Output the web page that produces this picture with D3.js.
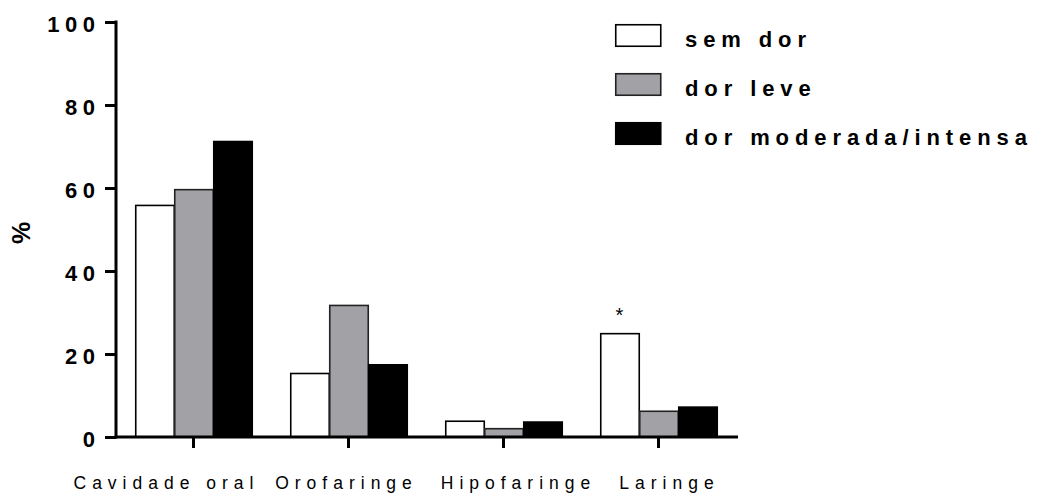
<!DOCTYPE html>
<html>
<head>
<meta charset="utf-8">
<script src="https://cdn.jsdelivr.net/npm/d3@7"></script>
<style>
  html, body { margin: 0; padding: 0; background: #fff; }
  svg { display: block; }
  text { font-family: "Liberation Sans", Arial, sans-serif; }
</style>
</head>
<body>
<svg id="chart" width="1039" height="496"></svg>
<script>
// Tumour site by pain category (%)
const categories = ["Cavidade oral", "Orofaringe", "Hipofaringe", "Laringe"];
const seriesNames = ["sem dor", "dor leve", "dor moderada/intensa"];
const semDor = [55.8, 15.3, 3.8, 24.9];
const dorLeve = [59.6, 31.7, 2.0, 6.2];
const dorModerada = [71.2, 17.4, 3.6, 7.2];
const yTicks = [0, 20, 40, 60, 80, 100];
const significant = ["Laringe"];           // marked with * over "sem dor"
const labelShift = [-30, -5, 12, 8];        // horizontal nudges for category labels

const seriesValues = [semDor, dorLeve, dorModerada];
const fills = ["#ffffff", "#a2a2a6", "#000000"];
const strokes = ["#000000", "#222222", "#000000"];

const svg = d3.select("#chart");
const plotLeft = 116, plotRight = 736, plotTop = 22, plotBottom = 437;

const x = d3.scaleBand().domain(categories).range([plotLeft, plotRight]).padding(0);
const xs = d3.scaleBand().domain(seriesNames).range([19, 136]).padding(0);
const y = d3.scaleLinear().domain([0, 100]).range([plotBottom, plotTop]);

// Bars
const groups = svg.selectAll("g.grp").data(categories).join("g")
  .attr("class", "grp")
  .attr("transform", d => `translate(${x(d)},0)`);

groups.selectAll("rect").data((c, i) => seriesNames.map((s, j) => ({ s, j, v: seriesValues[j][i] })))
  .join("rect")
  .attr("x", d => xs(d.s) + 0.75)
  .attr("width", xs.bandwidth() - 0.5)
  .attr("y", d => y(d.v))
  .attr("height", d => y(0) - y(d.v))
  .attr("fill", d => fills[d.j])
  .attr("stroke", d => strokes[d.j])
  .attr("stroke-width", 1.6);

// Significance marker
svg.selectAll("text.sig").data(significant).join("text")
  .attr("class", "sig")
  .attr("x", d => x(d) + xs("sem dor") + xs.bandwidth() / 2)
  .attr("y", d => y(semDor[categories.indexOf(d)]) - 12)
  .attr("text-anchor", "middle")
  .attr("font-size", 20)
  .text("*");

// Y axis
const yAxis = d3.axisLeft(y).tickValues(yTicks).tickSize(11).tickPadding(10).tickFormat(d3.format("d"));
const gy = svg.append("g").attr("transform", `translate(${plotLeft},0)`).call(yAxis);
gy.select(".domain").attr("stroke", "#000").attr("stroke-width", 3)
  .attr("d", `M0,${plotTop - 1.5}V${plotBottom + 1.5}`);
gy.selectAll(".tick line").attr("stroke", "#000").attr("stroke-width", 3);
gy.selectAll(".tick text")
  .attr("font-size", 22).attr("font-weight", "bold").attr("fill", "#000")
  .attr("letter-spacing", 5.5).attr("dx", 5.5).attr("dy", "0.45em");

// X axis
const xAxis = d3.axisBottom(x).tickSize(11).tickFormat("");
const gx = svg.append("g").attr("transform", `translate(0,${plotBottom})`).call(xAxis);
gx.select(".domain").attr("stroke", "#000").attr("stroke-width", 3)
  .attr("d", `M${plotLeft - 1.5},0H${plotRight + 2}`);
gx.selectAll(".tick line").attr("stroke", "#000").attr("stroke-width", 3);

svg.selectAll("text.xlab").data(categories).join("text")
  .attr("class", "xlab")
  .attr("x", (d, i) => x(d) + x.bandwidth() / 2 + labelShift[i] + 3)
  .attr("y", 489)
  .attr("text-anchor", "middle")
  .attr("font-size", 17.5)
  .attr("letter-spacing", 6)
  .text(d => d);

// Y axis title
svg.append("text")
  .attr("transform", "translate(30,233) rotate(-90)")
  .attr("text-anchor", "middle")
  .attr("font-size", 25).attr("font-weight", "bold")
  .text("%");

// Legend
const legend = svg.selectAll("g.leg").data(seriesNames).join("g")
  .attr("class", "leg")
  .attr("transform", (d, i) => `translate(615,${24 + i * 49})`);
legend.append("rect")
  .attr("x", 0.75).attr("y", 0.75)
  .attr("width", 45).attr("height", 21.5)
  .attr("fill", (d, i) => fills[i])
  .attr("stroke", (d, i) => strokes[i])
  .attr("stroke-width", 1.6);
legend.append("text")
  .attr("x", 70).attr("y", 22.5)
  .attr("font-size", 22).attr("font-weight", "bold")
  .attr("letter-spacing", 5.9)
  .text(d => d);
</script>
</body>
</html>
